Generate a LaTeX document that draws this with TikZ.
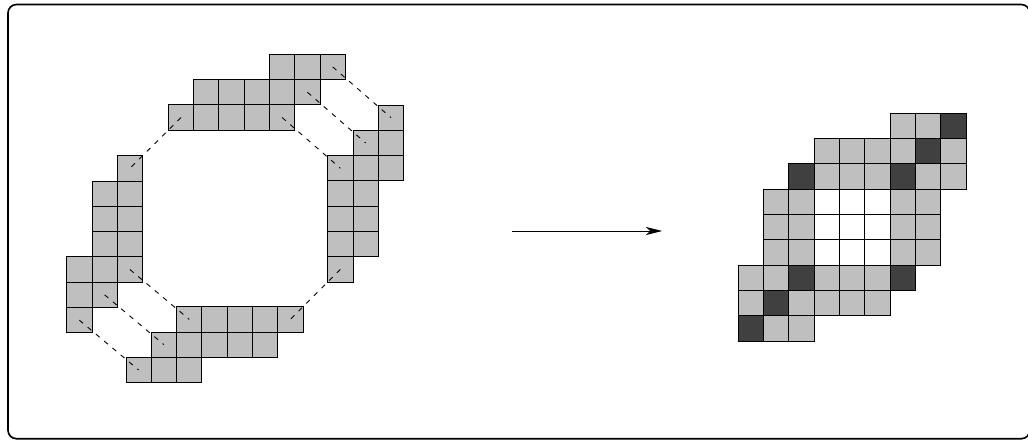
\documentclass[tikz,border=0pt]{standalone}
\usepackage{tikz}
\usetikzlibrary{arrows.meta}

\begin{document}
\begin{tikzpicture}[
      x=0.6cm,y=0.6cm,
      cell/.style={draw,fill=black!25,minimum size=0.6cm,inner sep=0pt,line width=0.6pt},
      dark/.style={cell,fill=black!75},
      hole/.style={cell,fill=white},
      link/.style={line width=0.6pt,dash pattern=on 3.3pt off 4pt},
      arr/.style={-{Stealth[length=11pt,width=5.5pt,inset=3pt]},line width=0.6pt}
    ]
    \useasboundingbox (0,0) rectangle (40.632,-17.391);
    \draw[line width=1.1pt,rounded corners=0.2cm] (0.316,-0.178) rectangle (40.7,-17.34);

    % before: the four pieces of the ring
    \begin{scope}[shift={(6.652,-2.146)}]
      \foreach \r/\cols in {0/{4,5,6},1/{1,...,5},2/{0,...,4}}
        \foreach \c in \cols \node[cell] (t-\c-\r) at (\c+0.5,-\r-0.5) {};
    \end{scope}
    \begin{scope}[shift={(12.953,-4.150)}]
      \foreach \r/\cols in {0/{2},1/{1,2},2/{0,1,2},3/{0,1},4/{0,1},5/{0,1},6/{0}}
        \foreach \c in \cols \node[cell] (r-\c-\r) at (\c+0.5,-\r-0.5) {};
    \end{scope}
    \begin{scope}[shift={(2.636,-6.154)}]
      \foreach \r/\cols in {0/{2},1/{1,2},2/{1,2},3/{1,2},4/{0,1,2},5/{0,1},6/{0}}
        \foreach \c in \cols \node[cell] (l-\c-\r) at (\c+0.5,-\r-0.5) {};
    \end{scope}
    \begin{scope}[shift={(4.980,-12.123)}]
      \foreach \r/\cols in {0/{2,...,6},1/{1,...,5},2/{0,1,2}}
        \foreach \c in \cols \node[cell] (b-\c-\r) at (\c+0.5,-\r-0.5) {};
    \end{scope}

    % links between the pieces
    \draw[link] (t-6-0.center) -- (r-2-0.center);
    \draw[link] (t-5-1.center) -- (r-1-1.center);
    \draw[link] (t-4-2.center) -- (r-0-2.center);
    \draw[link] (t-0-2.center) -- (l-2-0.center);
    \draw[link] (r-0-6.center) -- (b-6-0.center);
    \draw[link] (l-2-4.center) -- (b-2-0.center);
    \draw[link] (l-1-5.center) -- (b-1-1.center);
    \draw[link] (l-0-6.center) -- (b-0-2.center);

    \coordinate (from) at (20.24,-9.13);
    \coordinate (to) at (26.17,-9.13);
    \draw[arr] (from) -- (to);

    % after
    \begin{scope}[shift={(29.18,-4.478)}]
      \foreach \r/\cols in {0/{6,7},1/{3,4,5,6,8},2/{3,4,5,7,8},3/{1,2,6,7},4/{1,2,6,7},5/{1,2,6,7},
                            6/{0,1,3,4,5},7/{0,2,3,4,5},8/{1,2}}
        \foreach \c in \cols \node[cell] (s-\c-\r) at (\c+0.5,-\r-0.5) {};
      \foreach \r/\cols in {0/{8},1/{7},2/{2,6},6/{2,6},7/{1},8/{0}}
        \foreach \c in \cols \node[dark] (s-\c-\r) at (\c+0.5,-\r-0.5) {};
      \foreach \r in {3,4,5}
        \foreach \c in {3,4,5} \node[hole] (s-\c-\r) at (\c+0.5,-\r-0.5) {};
    \end{scope}
  \end{tikzpicture}
\end{document}
